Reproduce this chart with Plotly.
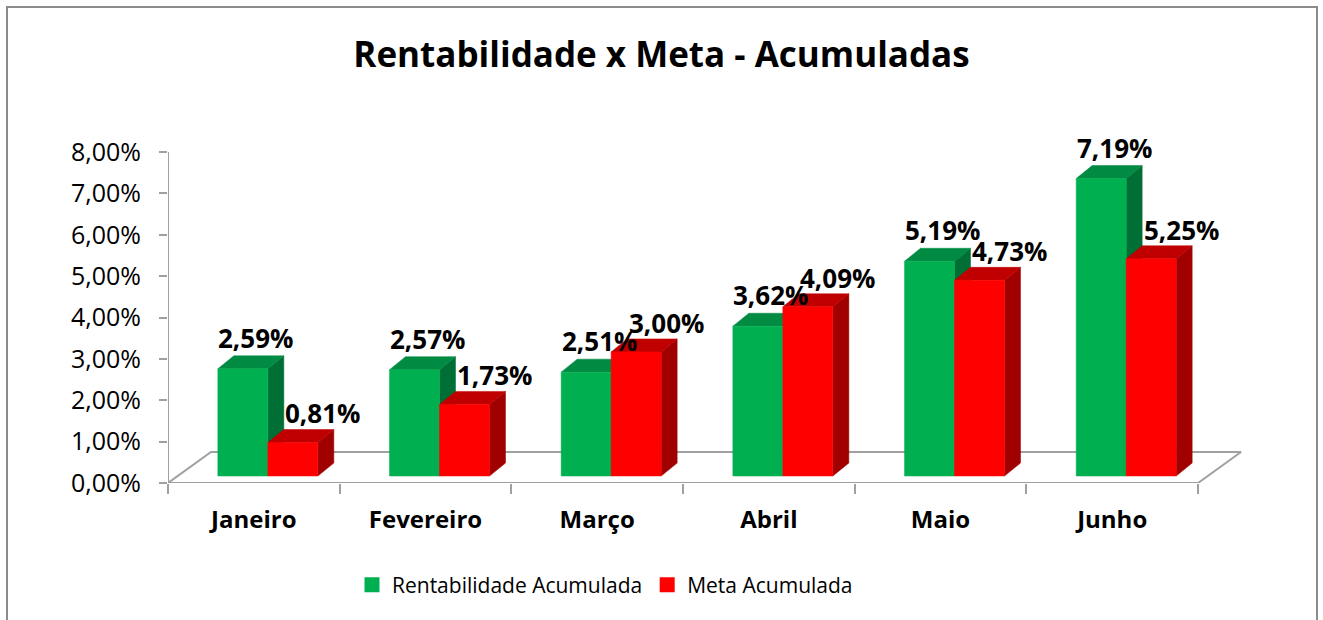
import plotly.graph_objects as go

# ---------------- data ----------------
categories = ["Janeiro", "Fevereiro", "Março", "Abril", "Maio", "Junho"]
rentabilidade = [2.59, 2.57, 2.51, 3.62, 5.19, 7.19]   # %
meta = [0.81, 1.73, 3.00, 4.09, 4.73, 5.25]            # %
y_ticks = [0, 1, 2, 3, 4, 5, 6, 7, 8]                  # %
series_names = ["Rentabilidade Acumulada", "Meta Acumulada"]

# ---------------- layout constants (pixels) ----------------
W, H = 1323, 620
PL, PR = 168, 1250          # plot area left/right px
PB, PT = 483, 140           # plot area bottom/top px
CAT_PX = 171.67             # px per category
PX_PER_PCT = 41.375         # px per 1 %

def ux(px):  # horizontal px -> x units
    return px / CAT_PX

def uy(px):  # vertical px -> y units (%)
    return px / PX_PER_PCT

x_min = -0.5
x_max = x_min + ux(PR - PL)
y_min = 0.0
y_max = uy(PB - PT)

BAR_W = ux(50)
GROUP_OFF = ux(14)
BASE = uy(7)
DDX, DDY = ux(16), uy(13)          # bar depth
FDX, FDY = ux(43), uy(31)          # floor depth

colors = {
    "front": ["#00B050", "#FF0000"],
    "top": ["#008A42", "#C00000"],
    "side": ["#006F36", "#A00000"],
}
LABEL_DX = [ux(13), ux(30)]
LABEL_DY = [uy(31), uy(29)]

fig = go.Figure()

# floor
fx = [x_min, x_min + len(categories), x_min + len(categories) + FDX, x_min + FDX, x_min]
fy = [0, 0, FDY, FDY, 0]
fig.add_trace(go.Scatter(x=fx, y=fy, mode="lines", line=dict(color="#A0A0A0", width=2),
                         hoverinfo="skip", showlegend=False))
# y axis line
fig.add_trace(go.Scatter(x=[x_min, x_min], y=[0, y_ticks[-1]], mode="lines",
                         line=dict(color="#A0A0A0", width=2), hoverinfo="skip", showlegend=False))

series = [rentabilidade, meta]
offsets = [GROUP_OFF - BAR_W / 2, GROUP_OFF + BAR_W / 2]


def face(xs, ys, color):
    fig.add_trace(go.Scatter(x=xs, y=ys, fill="toself", fillcolor=color, mode="lines",
                             line=dict(width=0.5, color=color), hoverinfo="skip", showlegend=False))


annotations = []
for i, cat in enumerate(categories):
    for s in range(2):
        v = series[s][i]
        xc = i + offsets[s]
        xl, xr = xc - BAR_W / 2, xc + BAR_W / 2
        yb, yt = BASE, BASE + v
        face([xr, xr, xr + DDX, xr + DDX, xr], [yb, yt, yt + DDY, yb + DDY, yb], colors["side"][s])
        face([xl, xr, xr + DDX, xl + DDX, xl], [yt, yt, yt + DDY, yt + DDY, yt], colors["top"][s])
        face([xl, xr, xr, xl, xl], [yb, yb, yt, yt, yb], colors["front"][s])
        annotations.append(dict(
            x=xc + LABEL_DX[s], y=yt + LABEL_DY[s], xref="x", yref="y",
            text=f"{v:.2f}%".replace(".", ","), showarrow=False,
            font=dict(family="Open Sans", size=26, color="#000000", weight=700),
            xanchor="center", yanchor="middle"))

# legend entries
for s in range(2):
    fig.add_trace(go.Scatter(x=[None], y=[None], mode="markers", name=series_names[s],
                             marker=dict(symbol="square", size=15, color=colors["front"][s]),
                             showlegend=True))


def paper_x(px):
    return (px - PL) / (PR - PL)


def paper_y(py):
    return (PB - py) / (PB - PT)


shapes = [dict(type="rect", xref="paper", yref="paper",
               x0=paper_x(7), x1=paper_x(1317), y0=paper_y(640), y1=paper_y(7),
               line=dict(color="#8C8C8C", width=2), fillcolor="rgba(0,0,0,0)", layer="below")]

fig.update_layout(
    width=W, height=H,
    margin=dict(l=PL, r=W - PR, t=PT, b=H - PB, pad=0, autoexpand=False),
    paper_bgcolor="white", plot_bgcolor="white",
    title=dict(text="Rentabilidade x Meta - Acumuladas", x=0.5, xref="container",
               y=1 - 55 / H, yanchor="middle", xanchor="center",
               font=dict(family="Open Sans", size=35, color="#000000", weight=700)),
    xaxis=dict(range=[x_min, x_max], tickmode="array", tickvals=list(range(len(categories))),
               ticktext=categories, ticks="", showgrid=False, zeroline=False, showline=False,
               tickfont=dict(family="Open Sans", size=24, color="#000000", weight=700),
               ticklabelstandoff=20,
               minor=dict(tickmode="array", tickvals=[k - 0.5 for k in range(len(categories) + 1)],
                          ticks="outside", ticklen=10, tickcolor="#A0A0A0", tickwidth=2, showgrid=False)),
    yaxis=dict(range=[y_min, y_max], tickmode="array", tickvals=y_ticks,
               ticktext=[f"{t:.2f}%".replace(".", ",") for t in y_ticks],
               ticks="outside", ticklen=8, tickcolor="#A0A0A0", tickwidth=2,
               showgrid=False, zeroline=False, showline=False,
               tickfont=dict(family="Open Sans", size=25, color="#000000"),
               ticklabelstandoff=13),
    legend=dict(orientation="h", x=paper_x(352), y=paper_y(585), xanchor="left", yanchor="middle",
                font=dict(family="Open Sans", size=21, color="#000000"), itemwidth=30,
                bgcolor="rgba(0,0,0,0)"),
    annotations=annotations,
    shapes=shapes,
    showlegend=True,
)

fig.write_html("out.html", config={"displayModeBar": False},
               post_script="document.body.style.margin='0';")
